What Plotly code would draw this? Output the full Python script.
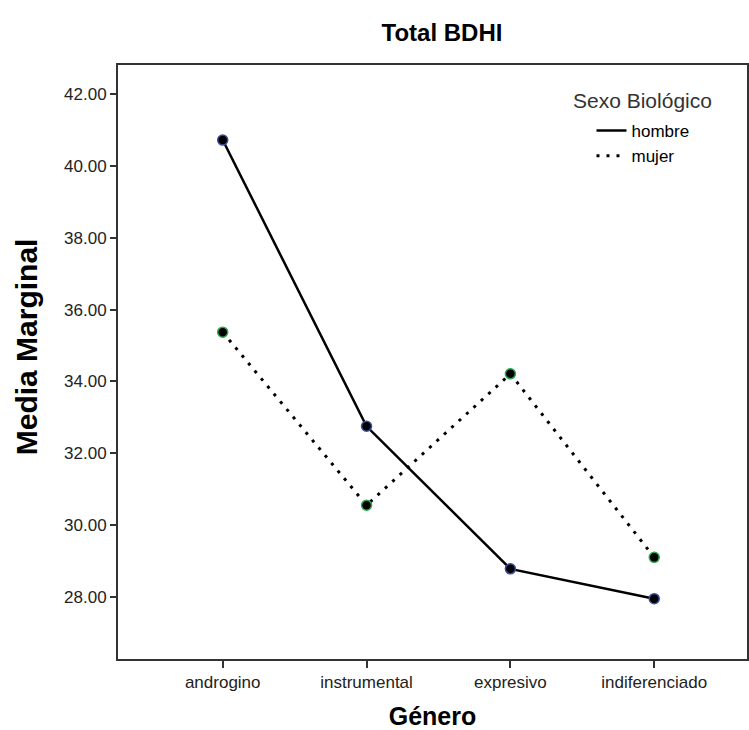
import plotly.graph_objects as go

categories = ["androgino", "instrumental", "expresivo", "indiferenciado"]
hombre = [40.72, 32.75, 28.78, 27.95]
mujer = [35.37, 30.55, 34.21, 29.10]
y_ticks = [28, 30, 32, 34, 36, 38, 40, 42]
y_tick_labels = ["28.00", "30.00", "32.00", "34.00", "36.00", "38.00", "40.00", "42.00"]

FONT = "Liberation Sans, Arial, sans-serif"
xs = list(range(len(categories)))

solid = dict(color="black", width=2.5)
dotted = dict(color="black", width=3, dash="3px,7px")

W, H = 749, 730
L, R, T, B = 118, 0, 65, 71
PW, PH = W - L - R, H - T - B

fig = go.Figure()
fig.add_trace(go.Scatter(
    x=xs, y=hombre, name="hombre", mode="lines+markers", showlegend=False,
    line=solid,
    marker=dict(color="black", size=10, line=dict(color="#3a4fa0", width=1.5)),
))
fig.add_trace(go.Scatter(
    x=xs, y=mujer, name="mujer", mode="lines+markers", showlegend=False,
    line=dotted,
    marker=dict(color="black", size=10, line=dict(color="#2fa84f", width=1.5)),
))
# legend-only entries (line samples without markers, as in the reference)
fig.add_trace(go.Scatter(x=[None], y=[None], name="hombre", mode="lines", line=solid))
fig.add_trace(go.Scatter(x=[None], y=[None], name="mujer", mode="lines", line=dotted))

fig.update_layout(
    width=W, height=H,
    margin=dict(l=L, r=R, t=T, b=B),
    paper_bgcolor="white", plot_bgcolor="white",
    font=dict(family=FONT, color="black", size=17),
    title=dict(text="<b>Total BDHI</b>", x=442 / W, xanchor="center",
               y=1 - 33 / H, yanchor="middle", font=dict(size=24, color="black")),
    showlegend=True,
    legend=dict(
        x=(593 - L) / PW, y=(H - B - 113) / PH, xanchor="left", yanchor="top",
        bgcolor="rgba(0,0,0,0)",
        font=dict(size=17, color="black"),
        itemwidth=30, tracegroupgap=0,
    ),
    annotations=[
        dict(text="Sexo Biológico", xref="paper", yref="paper",
             x=(572 - L) / PW, y=(H - B - 100) / PH, xanchor="left", yanchor="middle",
             showarrow=False, font=dict(size=21, color="#333333")),
        dict(text="<b>Media Marginal</b>", xref="paper", yref="paper",
             x=(27 - L) / PW, y=(H - B - 347) / PH, xanchor="center", yanchor="middle",
             textangle=-90, showarrow=False, font=dict(size=30, color="black")),
    ],
    xaxis=dict(
        tickmode="array", tickvals=xs, ticktext=categories,
        range=[-0.728, 3.645],
        showline=True, linecolor="#333333", linewidth=2, mirror=True,
        ticks="outside", ticklen=7, tickwidth=2, tickcolor="#333333",
        showgrid=False, zeroline=False,
        tickfont=dict(size=17, color="#222222"),
        title=dict(text="<b>Género</b>", font=dict(size=25, color="black"), standoff=18),
    ),
    yaxis=dict(
        tickmode="array", tickvals=y_ticks, ticktext=y_tick_labels,
        range=[26.27, 42.81],
        showline=True, linecolor="#333333", linewidth=2, mirror=True,
        ticks="outside", ticklen=6, tickwidth=2, tickcolor="#333333",
        showgrid=False, zeroline=False,
        tickfont=dict(size=17, color="#222222"),
    ),
)

fig.write_html("out.html")
